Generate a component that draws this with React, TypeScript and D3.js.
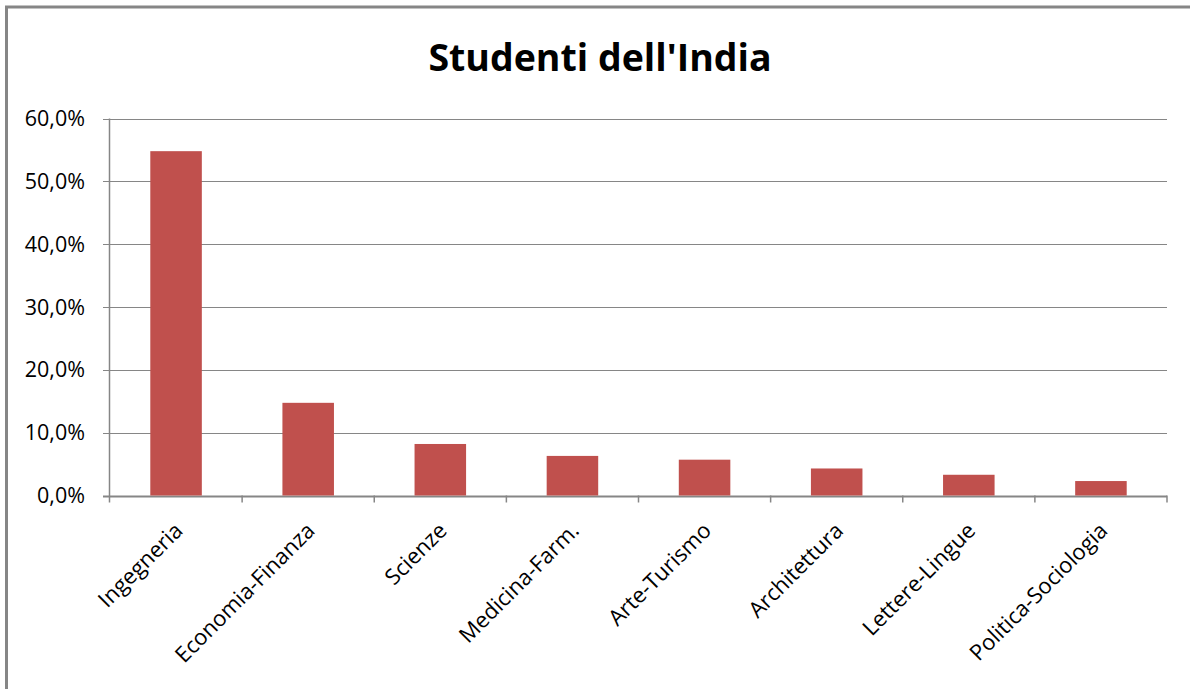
import React from "react";
import * as d3 from "d3";

const categories = [
  "Ingegneria",
  "Economia-Finanza",
  "Scienze",
  "Medicina-Farm.",
  "Arte-Turismo",
  "Architettura",
  "Lettere-Lingue",
  "Politica-Sociologia",
];
const values = [54.8, 14.75, 8.2, 6.3, 5.7, 4.3, 3.3, 2.3];
const yTicks = [0, 10, 20, 30, 40, 50, 60];
const title = "Studenti dell'India";

const W = 1190;
const H = 689;
const plot = { left: 110, right: 1167, top: 118.5, bottom: 495.5 };
const axisColor = "#868686";
const barColor = "#C0504D";
const font = "'Open Sans', Lato, sans-serif";

export default function App() {
  const x = d3
    .scaleBand<string>()
    .domain(categories)
    .range([plot.left, plot.right])
    .paddingInner(0.61)
    .paddingOuter(0.305);
  const xb = d3
    .scaleBand<string>()
    .domain(categories)
    .range([plot.left, plot.right]);
  const y = d3.scaleLinear().domain([0, 60]).range([plot.bottom, plot.top]);
  const fmt = (v: number) => v.toFixed(1).replace(".", ",") + "%";

  return (
    <svg
      width={W}
      height={H}
      style={{ position: "absolute", left: 0, top: 0, background: "#fff" }}
    >
      <rect x={0} y={0} width={W} height={H} fill="#fff" />
      {/* outer border */}
      <path
        d={`M6.5,${H} L6.5,7 L${W},7`}
        fill="none"
        stroke={axisColor}
        strokeWidth={3}
      />
      <text
        x={600}
        y={71}
        textAnchor="middle"
        fontFamily={font}
        fontWeight="bold"
        fontSize={37.5}
        fill="#000"
      >
        {title}
      </text>
      {/* gridlines */}
      {yTicks.map((t) => (
        <line
          key={"g" + t}
          x1={plot.left - 7}
          x2={plot.right}
          y1={Math.round(y(t)) + 0.5}
          y2={Math.round(y(t)) + 0.5}
          stroke={axisColor}
          strokeWidth={t === 0 ? 2 : 1}
        />
      ))}
      {yTicks.map((t) => (
        <text
          key={"t" + t}
          x={85}
          y={y(t) + 7.5}
          textAnchor="end"
          fontFamily={font}
          fontSize={21.5}
          fill="#000"
        >
          {fmt(t)}
        </text>
      ))}
      {/* bars */}
      {categories.map((c, i) => (
        <rect
          key={c}
          x={x(c)}
          y={y(values[i])}
          width={x.bandwidth()}
          height={y(0) - y(values[i])}
          fill={barColor}
        />
      ))}
      {/* y axis */}
      <line
        x1={plot.left - 0.5}
        x2={plot.left - 0.5}
        y1={plot.top}
        y2={plot.bottom + 7}
        stroke={axisColor}
        strokeWidth={1.5}
      />
      {/* x ticks */}
      {categories.map((c) => (
        <line
          key={"xt" + c}
          x1={(xb(c) as number) + xb.bandwidth()}
          x2={(xb(c) as number) + xb.bandwidth()}
          y1={plot.bottom}
          y2={plot.bottom + 7}
          stroke={axisColor}
          strokeWidth={1.5}
        />
      ))}
      {/* x labels */}
      {categories.map((c) => {
        const cx = (xb(c) as number) + xb.bandwidth() / 2 + 8;
        const cy = 532;
        return (
          <text
            key={"xl" + c}
            transform={`translate(${cx},${cy}) rotate(-45)`}
            textAnchor="end"
            fontFamily={font}
            fontSize={22}
            fill="#000"
          >
            {c}
          </text>
        );
      })}
    </svg>
  );
}
